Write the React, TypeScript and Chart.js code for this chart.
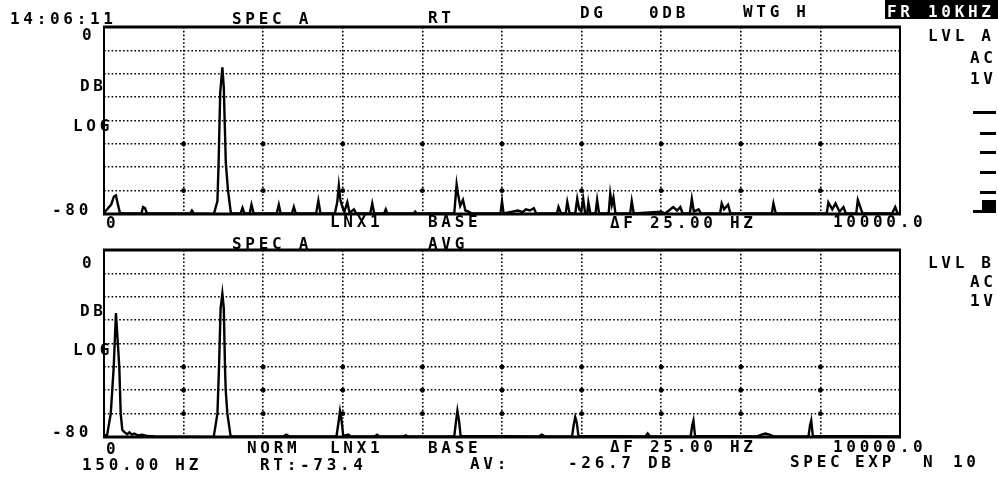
import React, { useEffect, useRef } from "react";
import { Chart, registerables } from "chart.js";

Chart.register(...registerables);

// ---- Data ----
// Upper trace (SPEC A, RT): frequency (Hz) and level (dB)
const topFreqHz = [
  0, 40, 90, 125, 150, 175, 200, 260, 470, 490, 515, 540, 1080, 1105, 1130,
  1380, 1425, 1440, 1460, 1487, 1505, 1530, 1558, 1595,
  1715, 1740, 1765, 1830, 1853, 1880, 2170, 2196, 2220, 2360, 2385, 2410,
  2665, 2693, 2720, 2900, 2930, 2950, 2970, 2995, 3020, 3057, 3085, 3140, 3170,
  3345, 3370, 3395, 3520, 3540, 3560, 3890, 3910, 3930,
  4400, 4430, 4450, 4475, 4510, 4540, 4580, 4620, 4980, 5000, 5020,
  5130, 5200, 5260, 5300, 5350, 5400, 5430, 5690, 5710, 5740, 5800, 5820, 5850,
  5920, 5945, 5970, 5995, 6020, 6045, 6070, 6085, 6110, 6175, 6195, 6220,
  6340, 6360, 6380, 6400, 6425, 6610, 6630, 6655, 7000, 7050, 7150, 7200, 7240, 7270,
  7360, 7385, 7410, 7470, 7500, 7740, 7760, 7790, 7840, 7870, 8390, 8410, 8440,
  9080, 9100, 9150, 9190, 9240, 9290, 9320, 9450, 9470, 9500, 9530, 9900, 9940, 9970, 10000,
];
const topLevelDb = [
  -79.5, -78, -76, -72.5, -72, -76, -79.5, -79.8, -79.8, -77, -77.5, -79.8, -79.8, -78.5, -79.8,
  -80, -74.5, -58, -28, -17.3, -26, -58, -70, -79.8,
  -79.8, -77.3, -79.8, -79.8, -76, -79.8, -79.8, -76, -79.8, -79.8, -77, -79.8,
  -79.8, -74.3, -79.8, -79.8, -75, -67.8, -74, -77, -79, -75, -79.5, -78, -79.8,
  -79.8, -75.5, -79.8, -79.8, -78, -79.8, -79.8, -79, -79.8,
  -79.8, -67.3, -72, -76.5, -74, -78.5, -79, -79.8, -79.8, -74.5, -79.8,
  -79, -78.5, -79.2, -78, -78.5, -77.5, -79.8, -79.8, -77, -79.5, -79.8, -74.8, -79.8,
  -79.8, -73.5, -78, -79, -73.5, -79.8, -79.8, -75, -79.8, -79.8, -74, -79.8,
  -79.8, -71.3, -76, -73, -79.8, -79.8, -74.5, -79.8, -79, -79.8, -77, -78.5, -77, -79.8,
  -79.8, -73.5, -79, -78, -79.8, -79.8, -75.5, -78, -76, -79.8, -79.8, -75.5, -79.8,
  -79.8, -75, -78, -75.5, -79, -77, -79.8, -79.8, -74, -77, -79.8, -79.8, -77, -79.8, -79.8,
];

// Lower trace (SPEC A, AVG)
const bottomFreqHz = [
  0, 40, 85, 122, 150, 192, 210, 230, 260, 290, 320, 350, 380, 420, 480, 550, 650,
  1378, 1425, 1445, 1465, 1487, 1505, 1520, 1529, 1550, 1591,
  2250, 2290, 2330, 2920, 2945, 2965, 2985, 3005, 3070, 3100, 3400, 3430, 3460,
  3760, 3790, 3820, 4400, 4420, 4440, 4460, 4480, 5460, 5500, 5540,
  5880, 5900, 5920, 5940, 5960, 6800, 6830, 6860, 7370, 7390, 7405, 7425,
  8200, 8260, 8310, 8360, 8420, 8850, 8870, 8885, 8905, 10000,
];
const bottomLevelDb = [
  -79.5, -79, -70, -50, -27, -50, -70, -77, -78, -78.8, -78, -79, -78.5, -79.3, -79, -79.6, -79.8,
  -80, -70, -50, -25, -18.7, -25, -50, -60, -70, -79.8,
  -79.8, -79, -79.8, -79.8, -74, -69, -73, -79.5, -79, -79.8, -79.8, -79, -79.8,
  -79.8, -79.3, -79.8, -79.8, -74, -68.8, -73, -79.5, -79.8, -79, -79.8,
  -79.8, -75, -71.5, -74, -79.5, -79.8, -78.5, -79.8, -79.8, -75, -73, -79.5,
  -79.8, -79, -78.5, -79, -79.8, -79.8, -75, -73, -79.5, -79.8,
];

// Axis settings
const freqMin = 0;
const freqMax = 10000;
const freqStep = 1000;
const levelMin = -80;
const levelMax = 0;
const levelStep = 10;

// Rows (dB) where the printer marked bold dots on the grid crossings
const gridDotRowsTop = [-50, -70];
const gridDotRowsBottom = [-50, -60, -70];
const gridDotCols = [1000, 2000, 3000, 4000, 5000, 6000, 7000, 8000, 9000];

// ---- Text (text, left x, cap-top y) ----
const texts: [string, number, number][] = [
  ["14:06:11", 10, 13],
  ["SPEC A", 232, 13],
  ["RT", 428, 12],
  ["DG", 580, 7],
  ["0DB", 649, 7],
  ["WTG H", 743, 6],
  ["0", 82, 29],
  ["DB", 80, 80],
  ["LOG", 73, 120],
  ["-80", 52, 204],
  ["0", 106, 217],
  ["LNX1", 330, 216],
  ["BASE", 428, 216],
  ["ΔF 25.00 HZ", 610, 217],
  ["10000.0", 833, 216],
  ["SPEC A", 232, 238],
  ["AVG", 428, 238],
  ["LVL A", 928, 30],
  ["AC", 970, 52],
  ["1V", 970, 73],
  ["0", 82, 257],
  ["DB", 80, 305],
  ["LOG", 73, 344],
  ["-80", 52, 426],
  ["0", 106, 443],
  ["NORM", 247, 442],
  ["LNX1", 330, 442],
  ["BASE", 428, 442],
  ["ΔF 25.00 HZ", 610, 441],
  ["10000.0", 833, 441],
  ["150.00 HZ", 82, 459],
  ["RT:-73.4", 260, 459],
  ["AV:", 470, 458],
  ["-26.7 DB", 568, 457],
  ["SPEC", 790, 456],
  ["EXP", 855, 456],
  ["N", 923, 456],
  ["10", 953, 456],
  ["LVL B", 928, 257],
  ["AC", 970, 276],
  ["1V", 970, 295],
];

// level-meter marks at the right (x, y, w, h)
const meterMarks: [number, number, number, number][] = [
  [973, 111, 23, 3],
  [980, 132, 16, 3],
  [980, 151, 16, 3],
  [980, 171, 16, 3],
  [980, 191, 16, 3],
  [982, 200, 14, 12],
  [973, 210, 23, 3],
];

const FONT = '"DejaVu Sans Mono", "Liberation Mono", monospace';

function framePlugin(dotRows: number[]) {
  return {
    id: "panelFrame",
    afterDatasetsDraw(chart: any) {
      const { ctx, chartArea: a, scales } = chart;
      ctx.save();
      ctx.fillStyle = "#000";
      for (const r of dotRows) {
        for (const c of gridDotCols) {
          const px = scales.x.getPixelForValue(c);
          const py = scales.y.getPixelForValue(r);
          ctx.beginPath();
          ctx.arc(px, py, 2.4, 0, Math.PI * 2);
          ctx.fill();
        }
      }
      ctx.strokeStyle = "#000";
      ctx.lineWidth = 3;
      ctx.beginPath();
      ctx.moveTo(a.left - 1, a.top);
      ctx.lineTo(a.right + 1, a.top);
      ctx.moveTo(a.left - 1, a.bottom);
      ctx.lineTo(a.right + 1, a.bottom);
      ctx.stroke();
      ctx.lineWidth = 2;
      ctx.beginPath();
      ctx.moveTo(a.left, a.top);
      ctx.lineTo(a.left, a.bottom);
      ctx.moveTo(a.right, a.top);
      ctx.lineTo(a.right, a.bottom);
      ctx.stroke();
      ctx.restore();
    },
  };
}

function panelConfig(freq: number[], level: number[], padTop: number, padBottom: number, dotRows: number[]): any {
  const grid = { color: "#000", lineWidth: 1.6, drawTicks: false };
  const border = { display: false, dash: [1.6, 2.2] };
  return {
    type: "line",
    data: {
      datasets: [
        {
          data: freq.map((f, i) => ({ x: f, y: level[i] })),
          borderColor: "#000",
          borderWidth: 2.4,
          pointRadius: 0,
          tension: 0,
          fill: false,
        },
      ],
    },
    options: {
      animation: false,
      responsive: false,
      events: [],
      layout: { padding: { left: 104, right: 98, top: padTop, bottom: padBottom } },
      plugins: { legend: { display: false }, tooltip: { enabled: false } },
      scales: {
        x: {
          type: "linear",
          min: freqMin,
          max: freqMax,
          ticks: { display: false, stepSize: freqStep },
          grid,
          border,
          afterFit: (s: any) => {
            s.height = 0;
          },
        },
        y: {
          type: "linear",
          min: levelMin,
          max: levelMax,
          ticks: { display: false, stepSize: levelStep },
          grid,
          border,
          afterFit: (s: any) => {
            s.width = 0;
          },
        },
      },
    },
    plugins: [framePlugin(dotRows)],
  };
}

export default function App() {
  const topRef = useRef<HTMLCanvasElement>(null);
  const botRef = useRef<HTMLCanvasElement>(null);

  useEffect(() => {
    const c1 = new Chart(topRef.current as HTMLCanvasElement, panelConfig(topFreqHz, topLevelDb, 27, 265, gridDotRowsTop));
    const c2 = new Chart(botRef.current as HTMLCanvasElement, panelConfig(bottomFreqHz, bottomLevelDb, 250, 42, gridDotRowsBottom));
    return () => {
      c1.destroy();
      c2.destroy();
    };
  }, []);

  const textStyle: React.CSSProperties = {
    position: "absolute",
    fontFamily: FONT,
    fontWeight: "bold",
    fontSize: 16,
    lineHeight: "16px",
    letterSpacing: "3.7px",
    whiteSpace: "pre",
    color: "#000",
  };

  return (
    <div
      style={{
        position: "fixed",
        left: 0,
        top: 0,
        width: 998,
        height: 479,
        background: "#fff",
        overflow: "hidden",
      }}
    >
      <canvas ref={topRef} width={998} height={479} style={{ position: "absolute", left: 0, top: 0 }} />
      <canvas ref={botRef} width={998} height={479} style={{ position: "absolute", left: 0, top: 0 }} />
      {texts.map(([t, x, y], i) => (
        <div key={i} style={{ ...textStyle, left: x, top: y - 2 }}>
          {t}
        </div>
      ))}
      <div style={{ position: "absolute", left: 885, top: 0, width: 113, height: 19, background: "#000" }} />
      <div style={{ ...textStyle, left: 887, top: 4, color: "#fff" }}>FR</div>
      <div style={{ ...textStyle, left: 928, top: 4, color: "#fff" }}>10KHZ</div>
      {meterMarks.map(([x, y, w, h], i) => (
        <div key={"m" + i} style={{ position: "absolute", left: x, top: y, width: w, height: h, background: "#000" }} />
      ))}
    </div>
  );
}
